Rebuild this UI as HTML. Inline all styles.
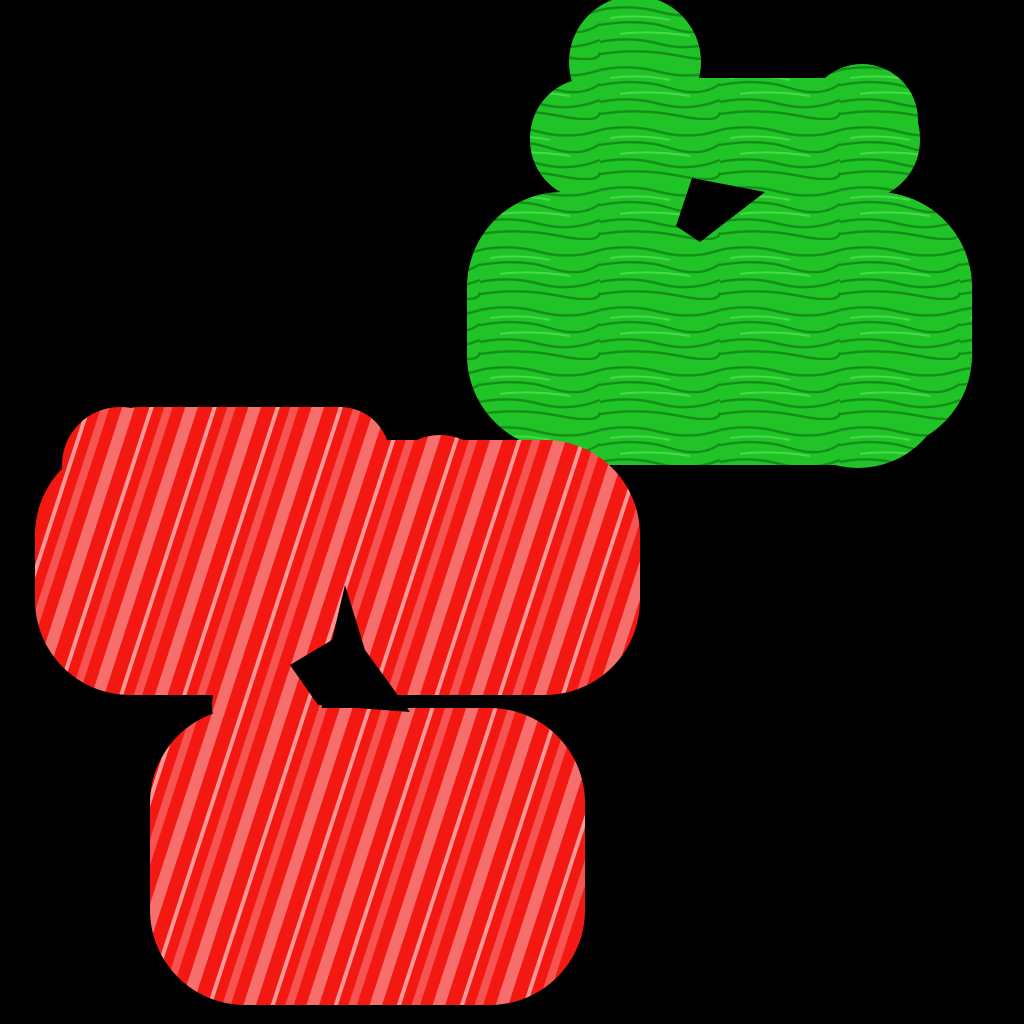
<!DOCTYPE html>
<html><head><meta charset="utf-8"><style>html,body{margin:0;padding:0;background:#000;width:1024px;height:1024px;overflow:hidden}</style></head>
<body>
<svg width="1024" height="1024" viewBox="0 0 1024 1024">
<defs>
<pattern id="wood" width="120" height="60" patternUnits="userSpaceOnUse">
<rect width="120" height="60" fill="#20c426"/>
<path d="M0 10 Q30 4 60 12 T120 10 M0 25 Q40 18 70 28 T120 24 M0 42 Q30 36 60 44 T120 40 M0 54 Q40 48 80 56 T120 52" stroke="#14901a" stroke-width="2.5" fill="none"/>
<path d="M10 18 Q40 14 70 20 M20 34 Q50 30 90 36" stroke="#44dc48" stroke-width="2" fill="none"/>
</pattern>
<pattern id="fur" width="60" height="200" patternUnits="userSpaceOnUse" patternTransform="rotate(18)">
<rect width="60" height="200" fill="#f41812"/>
<line x1="8" y1="0" x2="8" y2="200" stroke="#f8a8a8" stroke-width="12" opacity="0.6"/>
<line x1="30" y1="0" x2="30" y2="200" stroke="#fcd0d0" stroke-width="4" opacity="0.7"/>
<line x1="46" y1="0" x2="46" y2="200" stroke="#f89090" stroke-width="8" opacity="0.5"/>
</pattern>
</defs>
<g fill="url(#wood)">
<circle cx="635" cy="62" r="66"/>
<rect x="530" y="78" width="390" height="122" rx="60"/>
<circle cx="862" cy="120" r="56"/>
<rect x="467" y="192" width="505" height="258" rx="95"/>
<circle cx="858" cy="378" r="90"/>
<rect x="530" y="300" width="400" height="165" rx="70"/>
</g>
<polygon fill="#000" points="676,226 692,178 765,192 700,242"/>
<g fill="url(#fur)">
<rect x="35" y="440" width="605" height="255" rx="95"/>
<circle cx="120" cy="465" r="58"/>
<rect x="90" y="407" width="300" height="100" rx="50"/>
<circle cx="440" cy="490" r="55"/>
<circle cx="565" cy="550" r="75"/>
<circle cx="267" cy="705" r="55"/>
<rect x="150" y="708" width="435" height="297" rx="95"/>
</g>
<polygon fill="#000" points="345,585 365,650 410,712 318,705 290,665 332,640"/>
<rect x="390" y="695" width="120" height="10" fill="#000"/>
</svg>
</body></html>
